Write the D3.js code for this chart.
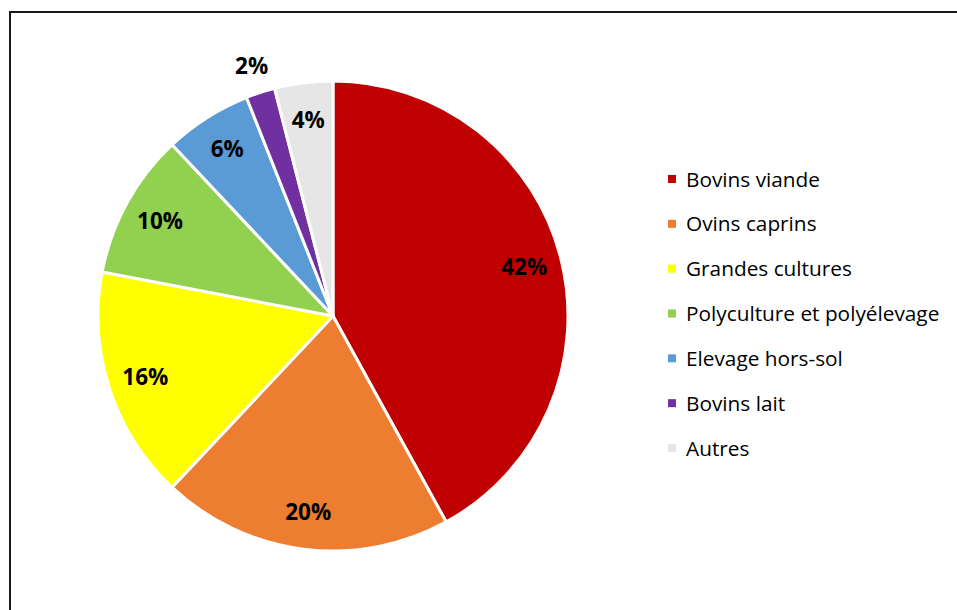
<!DOCTYPE html>
<html>
<head>
<meta charset="utf-8">
<script src="https://cdn.jsdelivr.net/npm/d3@7/dist/d3.min.js"></script>
<style>
  html, body { margin: 0; padding: 0; background: #fff; }
  svg { display: block; }
</style>
</head>
<body>
<svg id="chart" width="957" height="610"></svg>
<script>
// Répartition des exploitations par orientation technique
const categories = [
  "Bovins viande",
  "Ovins caprins",
  "Grandes cultures",
  "Polyculture et polyélevage",
  "Elevage hors-sol",
  "Bovins lait",
  "Autres"
];
const shares = [42, 20, 16, 10, 6, 2, 4];
const colors = ["#C00000", "#ED7D31", "#FFFF00", "#92D050", "#5B9BD5", "#7030A0", "#E7E6E6"];

const svg = d3.select("#chart");
const W = 957, H = 610;

// Chart frame (extends past the right and bottom edges)
svg.append("rect")
  .attr("x", 10).attr("y", 12)
  .attr("width", W + 20).attr("height", H + 20)
  .attr("fill", "#fff")
  .attr("stroke", "#1a1a1a")
  .attr("stroke-width", 2);

const cx = 333, cy = 316, R = 235;

const data = categories.map((c, i) => ({ name: c, value: shares[i], color: colors[i] }));

const pie = d3.pie().sort(null).value(d => d.value);
const arcs = pie(data);

const arc = d3.arc().innerRadius(0).outerRadius(R);
const labelArc = d3.arc().innerRadius(R * 0.84).outerRadius(R * 0.84);
const outerLabelArc = d3.arc().innerRadius(R * 1.12).outerRadius(R * 1.12);

const g = svg.append("g").attr("transform", `translate(${cx},${cy})`);

g.selectAll("path.slice")
  .data(arcs)
  .enter().append("path")
  .attr("class", "slice")
  .attr("d", arc)
  .attr("fill", d => d.data.color)
  .attr("stroke", "#fff")
  .attr("stroke-width", 3)
  .attr("stroke-linejoin", "round");

// Value labels: small slices get their label outside the pie
g.selectAll("text.val")
  .data(arcs)
  .enter().append("text")
  .attr("class", "val")
  .attr("transform", d => {
    const p = (d.data.value < 3 ? outerLabelArc : labelArc).centroid(d);
    return `translate(${p[0]},${p[1]})`;
  })
  .attr("text-anchor", "middle")
  .attr("dy", "0.36em")
  .attr("font-family", "'Open Sans', 'Liberation Sans', sans-serif")
  .attr("font-weight", "bold")
  .attr("font-size", 22.5)
  .attr("fill", "#000")
  .text(d => d.data.value + "%");

// Legend
const legendY = d3.scalePoint()
  .domain(categories)
  .range([179, 448]);

const legend = svg.append("g");
const items = legend.selectAll("g.item")
  .data(data)
  .enter().append("g")
  .attr("class", "item")
  .attr("transform", d => `translate(668,${legendY(d.name)})`);

items.append("rect")
  .attr("x", 0).attr("y", -4)
  .attr("width", 8).attr("height", 8)
  .attr("fill", d => d.color);

items.append("text")
  .attr("x", 18).attr("y", 0)
  .attr("dy", "0.36em")
  .attr("font-family", "'Open Sans', 'Liberation Sans', sans-serif")
  .attr("font-size", 20.8)
  .attr("fill", "#000")
  .text(d => d.name);
</script>
</body>
</html>
